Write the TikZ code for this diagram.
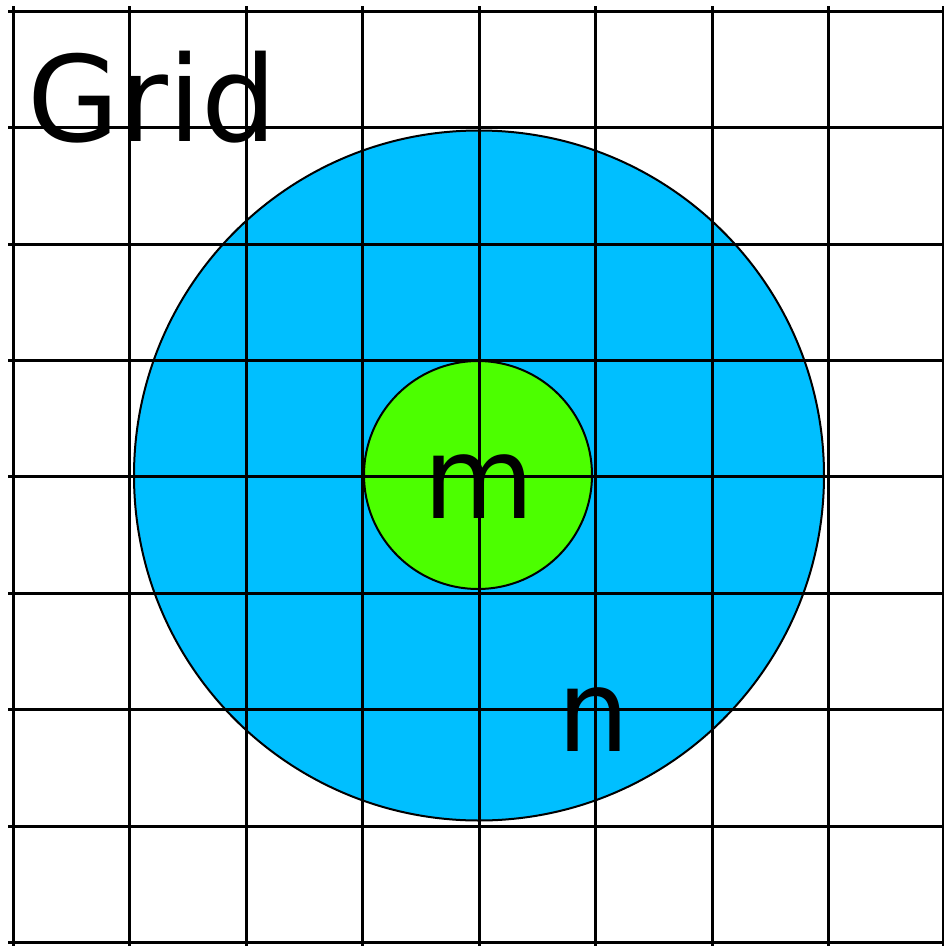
\documentclass[tikz,border=0pt]{standalone}
\usepackage{fontspec}
\setmainfont{DejaVu Sans}
\definecolor{bigblue}{RGB}{0,191,255}
\definecolor{smallgreen}{RGB}{76,255,0}
\begin{document}
\begin{tikzpicture}[x=1pt,y=-1pt,
  gridline/.style={black,line width=3pt},
  disc/.style={draw=black,line width=2pt},
  bigtext/.style={inner sep=0pt,font=\fontsize{119}{140}\selectfont},
  lettertext/.style={inner sep=0pt,font=\fontsize{114}{136}\selectfont}]
\useasboundingbox (0,0) rectangle (944,946);
\fill[white] (0,0) rectangle (944,946);
% circles
\filldraw[disc,fill=bigblue] (479,475.5) circle (345);
\filldraw[disc,fill=smallgreen] (478,475) circle (114);
% grid
\foreach \x in {13,129.5,246,362.5,479,595.5,712,828,943}
  \draw[gridline] (\x,6) -- (\x,950);
\foreach \y in {11,127.5,244,360.5,476.5,593,709.5,826,942.5}
  \draw[gridline] (8,\y) -- (950,\y);
% labels
\node[bigtext,anchor=base west] (gridlabel) at (27,141) {Grid};
\node[lettertext,anchor=base] (mlabel) at (479,518) {m};
\node[lettertext,anchor=base] (nlabel) at (593.5,751) {n};
\end{tikzpicture}
\end{document}
